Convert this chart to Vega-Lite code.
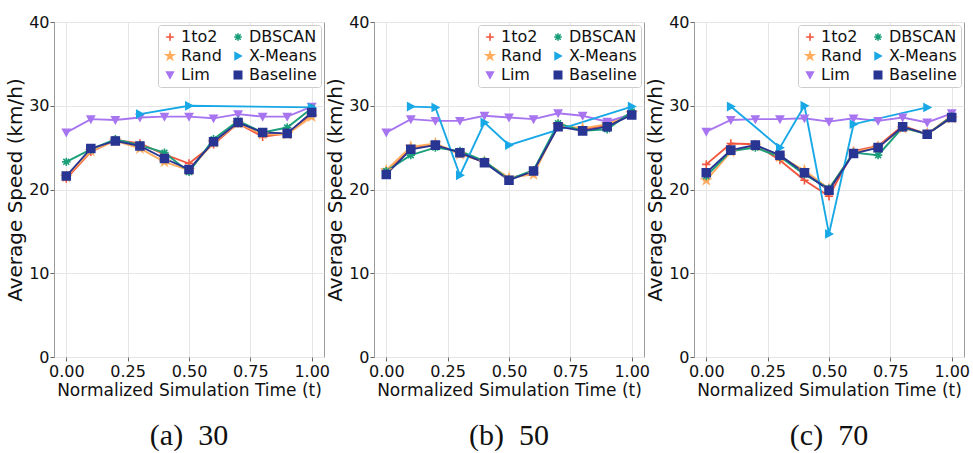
{
"$schema": "https://vega.github.io/schema/vega-lite/v6.json",
"background": "white",
"padding": {"left": 5, "top": 13, "right": 0, "bottom": 0},
"autosize": {"type": "pad"},
"bounds": "flush",
"spacing": 50,
"data": {"values": [
{"p":"a","m":"1to2","t":0,"v":21.3},{"p":"a","m":"1to2","t":0.1,"v":24.5},{"p":"a","m":"1to2","t":0.2,"v":25.9},{"p":"a","m":"1to2","t":0.3,"v":25.5},{"p":"a","m":"1to2","t":0.4,"v":24.2},{"p":"a","m":"1to2","t":0.5,"v":23.1},{"p":"a","m":"1to2","t":0.6,"v":25.4},{"p":"a","m":"1to2","t":0.7,"v":27.9},{"p":"a","m":"1to2","t":0.8,"v":26.3},{"p":"a","m":"1to2","t":0.9,"v":26.7},{"p":"a","m":"1to2","t":1.0,"v":29.0},
{"p":"a","m":"Rand","t":0,"v":21.5},{"p":"a","m":"Rand","t":0.1,"v":24.6},{"p":"a","m":"Rand","t":0.2,"v":25.8},{"p":"a","m":"Rand","t":0.3,"v":24.9},{"p":"a","m":"Rand","t":0.4,"v":23.3},{"p":"a","m":"Rand","t":0.5,"v":22.3},{"p":"a","m":"Rand","t":0.6,"v":25.6},{"p":"a","m":"Rand","t":0.7,"v":27.9},{"p":"a","m":"Rand","t":0.8,"v":26.6},{"p":"a","m":"Rand","t":0.9,"v":26.6},{"p":"a","m":"Rand","t":1.0,"v":28.7},
{"p":"a","m":"Lim","t":0,"v":26.8},{"p":"a","m":"Lim","t":0.1,"v":28.4},{"p":"a","m":"Lim","t":0.2,"v":28.3},{"p":"a","m":"Lim","t":0.3,"v":28.6},{"p":"a","m":"Lim","t":0.4,"v":28.7},{"p":"a","m":"Lim","t":0.5,"v":28.7},{"p":"a","m":"Lim","t":0.6,"v":28.5},{"p":"a","m":"Lim","t":0.7,"v":29.0},{"p":"a","m":"Lim","t":0.8,"v":28.7},{"p":"a","m":"Lim","t":0.9,"v":28.7},{"p":"a","m":"Lim","t":1.0,"v":29.9},
{"p":"a","m":"DBSCAN","t":0,"v":23.3},{"p":"a","m":"DBSCAN","t":0.1,"v":24.8},{"p":"a","m":"DBSCAN","t":0.2,"v":26.0},{"p":"a","m":"DBSCAN","t":0.3,"v":25.3},{"p":"a","m":"DBSCAN","t":0.4,"v":24.4},{"p":"a","m":"DBSCAN","t":0.5,"v":22.1},{"p":"a","m":"DBSCAN","t":0.6,"v":26.0},{"p":"a","m":"DBSCAN","t":0.7,"v":28.2},{"p":"a","m":"DBSCAN","t":0.8,"v":26.8},{"p":"a","m":"DBSCAN","t":0.9,"v":27.4},{"p":"a","m":"DBSCAN","t":1.0,"v":29.7},
{"p":"a","m":"X-Means","t":0.3,"v":29.0},{"p":"a","m":"X-Means","t":0.5,"v":30.0},{"p":"a","m":"X-Means","t":1.0,"v":29.8},
{"p":"a","m":"Baseline","t":0,"v":21.6},{"p":"a","m":"Baseline","t":0.1,"v":24.9},{"p":"a","m":"Baseline","t":0.2,"v":25.8},{"p":"a","m":"Baseline","t":0.3,"v":25.2},{"p":"a","m":"Baseline","t":0.4,"v":23.7},{"p":"a","m":"Baseline","t":0.5,"v":22.4},{"p":"a","m":"Baseline","t":0.6,"v":25.7},{"p":"a","m":"Baseline","t":0.7,"v":28.0},{"p":"a","m":"Baseline","t":0.8,"v":26.8},{"p":"a","m":"Baseline","t":0.9,"v":26.7},{"p":"a","m":"Baseline","t":1.0,"v":29.2},
{"p":"b","m":"1to2","t":0,"v":22.0},{"p":"b","m":"1to2","t":0.1,"v":25.0},{"p":"b","m":"1to2","t":0.2,"v":25.4},{"p":"b","m":"1to2","t":0.3,"v":24.3},{"p":"b","m":"1to2","t":0.4,"v":23.3},{"p":"b","m":"1to2","t":0.5,"v":21.3},{"p":"b","m":"1to2","t":0.6,"v":22.1},{"p":"b","m":"1to2","t":0.7,"v":27.6},{"p":"b","m":"1to2","t":0.8,"v":27.2},{"p":"b","m":"1to2","t":0.9,"v":27.7},{"p":"b","m":"1to2","t":1.0,"v":29.0},
{"p":"b","m":"Rand","t":0,"v":22.3},{"p":"b","m":"Rand","t":0.1,"v":25.1},{"p":"b","m":"Rand","t":0.2,"v":25.5},{"p":"b","m":"Rand","t":0.3,"v":24.2},{"p":"b","m":"Rand","t":0.4,"v":23.3},{"p":"b","m":"Rand","t":0.5,"v":21.4},{"p":"b","m":"Rand","t":0.6,"v":21.8},{"p":"b","m":"Rand","t":0.7,"v":27.7},{"p":"b","m":"Rand","t":0.8,"v":27.3},{"p":"b","m":"Rand","t":0.9,"v":27.8},{"p":"b","m":"Rand","t":1.0,"v":29.1},
{"p":"b","m":"Lim","t":0,"v":26.8},{"p":"b","m":"Lim","t":0.1,"v":28.4},{"p":"b","m":"Lim","t":0.2,"v":28.2},{"p":"b","m":"Lim","t":0.3,"v":28.2},{"p":"b","m":"Lim","t":0.4,"v":28.8},{"p":"b","m":"Lim","t":0.5,"v":28.6},{"p":"b","m":"Lim","t":0.6,"v":28.4},{"p":"b","m":"Lim","t":0.7,"v":29.1},{"p":"b","m":"Lim","t":0.8,"v":28.8},{"p":"b","m":"Lim","t":0.9,"v":28.1},{"p":"b","m":"Lim","t":1.0,"v":29.0},
{"p":"b","m":"DBSCAN","t":0,"v":22.2},{"p":"b","m":"DBSCAN","t":0.1,"v":24.1},{"p":"b","m":"DBSCAN","t":0.2,"v":25.0},{"p":"b","m":"DBSCAN","t":0.3,"v":24.6},{"p":"b","m":"DBSCAN","t":0.4,"v":23.4},{"p":"b","m":"DBSCAN","t":0.5,"v":21.2},{"p":"b","m":"DBSCAN","t":0.6,"v":22.3},{"p":"b","m":"DBSCAN","t":0.7,"v":27.9},{"p":"b","m":"DBSCAN","t":0.8,"v":27.0},{"p":"b","m":"DBSCAN","t":0.9,"v":27.2},{"p":"b","m":"DBSCAN","t":1.0,"v":29.3},
{"p":"b","m":"X-Means","t":0.1,"v":29.9},{"p":"b","m":"X-Means","t":0.2,"v":29.8},{"p":"b","m":"X-Means","t":0.3,"v":21.7},{"p":"b","m":"X-Means","t":0.4,"v":28.0},{"p":"b","m":"X-Means","t":0.5,"v":25.3},{"p":"b","m":"X-Means","t":1.0,"v":29.9},
{"p":"b","m":"Baseline","t":0,"v":21.8},{"p":"b","m":"Baseline","t":0.1,"v":24.8},{"p":"b","m":"Baseline","t":0.2,"v":25.3},{"p":"b","m":"Baseline","t":0.3,"v":24.4},{"p":"b","m":"Baseline","t":0.4,"v":23.2},{"p":"b","m":"Baseline","t":0.5,"v":21.1},{"p":"b","m":"Baseline","t":0.6,"v":22.2},{"p":"b","m":"Baseline","t":0.7,"v":27.5},{"p":"b","m":"Baseline","t":0.8,"v":27.0},{"p":"b","m":"Baseline","t":0.9,"v":27.5},{"p":"b","m":"Baseline","t":1.0,"v":28.9},
{"p":"c","m":"1to2","t":0,"v":23.0},{"p":"c","m":"1to2","t":0.1,"v":25.5},{"p":"c","m":"1to2","t":0.2,"v":25.4},{"p":"c","m":"1to2","t":0.3,"v":23.5},{"p":"c","m":"1to2","t":0.4,"v":21.1},{"p":"c","m":"1to2","t":0.5,"v":19.2},{"p":"c","m":"1to2","t":0.6,"v":24.6},{"p":"c","m":"1to2","t":0.7,"v":25.2},{"p":"c","m":"1to2","t":0.8,"v":27.6},{"p":"c","m":"1to2","t":0.9,"v":26.6},{"p":"c","m":"1to2","t":1.0,"v":28.8},
{"p":"c","m":"Rand","t":0,"v":21.1},{"p":"c","m":"Rand","t":0.1,"v":24.5},{"p":"c","m":"Rand","t":0.2,"v":25.2},{"p":"c","m":"Rand","t":0.3,"v":23.9},{"p":"c","m":"Rand","t":0.4,"v":22.3},{"p":"c","m":"Rand","t":0.5,"v":20.1},{"p":"c","m":"Rand","t":0.6,"v":24.4},{"p":"c","m":"Rand","t":0.7,"v":25.1},{"p":"c","m":"Rand","t":0.8,"v":27.3},{"p":"c","m":"Rand","t":0.9,"v":26.7},{"p":"c","m":"Rand","t":1.0,"v":28.5},
{"p":"c","m":"Lim","t":0,"v":26.9},{"p":"c","m":"Lim","t":0.1,"v":28.3},{"p":"c","m":"Lim","t":0.2,"v":28.4},{"p":"c","m":"Lim","t":0.3,"v":28.4},{"p":"c","m":"Lim","t":0.4,"v":28.5},{"p":"c","m":"Lim","t":0.5,"v":28.1},{"p":"c","m":"Lim","t":0.6,"v":28.5},{"p":"c","m":"Lim","t":0.7,"v":28.2},{"p":"c","m":"Lim","t":0.8,"v":28.6},{"p":"c","m":"Lim","t":0.9,"v":28.0},{"p":"c","m":"Lim","t":1.0,"v":29.1},
{"p":"c","m":"DBSCAN","t":0,"v":21.6},{"p":"c","m":"DBSCAN","t":0.1,"v":24.6},{"p":"c","m":"DBSCAN","t":0.2,"v":25.0},{"p":"c","m":"DBSCAN","t":0.3,"v":23.9},{"p":"c","m":"DBSCAN","t":0.4,"v":21.8},{"p":"c","m":"DBSCAN","t":0.5,"v":20.1},{"p":"c","m":"DBSCAN","t":0.6,"v":24.4},{"p":"c","m":"DBSCAN","t":0.7,"v":24.1},{"p":"c","m":"DBSCAN","t":0.8,"v":27.4},{"p":"c","m":"DBSCAN","t":0.9,"v":26.6},{"p":"c","m":"DBSCAN","t":1.0,"v":28.7},
{"p":"c","m":"X-Means","t":0.1,"v":29.9},{"p":"c","m":"X-Means","t":0.3,"v":25.0},{"p":"c","m":"X-Means","t":0.4,"v":30.0},{"p":"c","m":"X-Means","t":0.5,"v":14.7},{"p":"c","m":"X-Means","t":0.6,"v":27.8},{"p":"c","m":"X-Means","t":0.9,"v":29.8},
{"p":"c","m":"Baseline","t":0,"v":22.0},{"p":"c","m":"Baseline","t":0.1,"v":24.7},{"p":"c","m":"Baseline","t":0.2,"v":25.3},{"p":"c","m":"Baseline","t":0.3,"v":24.1},{"p":"c","m":"Baseline","t":0.4,"v":22.0},{"p":"c","m":"Baseline","t":0.5,"v":19.9},{"p":"c","m":"Baseline","t":0.6,"v":24.3},{"p":"c","m":"Baseline","t":0.7,"v":25.0},{"p":"c","m":"Baseline","t":0.8,"v":27.5},{"p":"c","m":"Baseline","t":0.9,"v":26.6},{"p":"c","m":"Baseline","t":1.0,"v":28.6}
]},
"hconcat": [
{"width": 270, "height": 335,
 "title": {"text": "(a)\u00a0\u00a030"},
 "transform": [{"filter": "datum.p === 'a'"}],
 "layer": [
  {"mark": {"type": "line", "strokeWidth": 1.9},
   "encoding": {
    "x": {"field": "t", "type": "quantitative", "scale": {"domain": [-0.05, 1.05], "nice": false, "zero": false}, "axis": {"values": [0, 0.25, 0.5, 0.75, 1], "format": ".2f", "title": "Normalized Simulation Time (t)"}},
    "y": {"field": "v", "type": "quantitative", "scale": {"domain": [0, 40], "nice": false}, "axis": {"values": [0, 10, 20, 30, 40], "title": "Average Speed (km/h)"}},
    "color": {"field": "m", "type": "nominal", "scale": {"domain": ["1to2", "Rand", "Lim", "DBSCAN", "X-Means", "Baseline"], "range": ["#f2553d", "#ffac5e", "#a875f0", "#1b9e7a", "#18a8e6", "#283593"]}, "legend": {"title": null}}
   }},
  {"mark": {"type": "point", "filled": true, "size": 70, "strokeWidth": 1.6, "opacity": 1},
   "encoding": {
    "x": {"field": "t", "type": "quantitative"},
    "y": {"field": "v", "type": "quantitative"},
    "color": {"field": "m", "type": "nominal", "legend": {"title": null}},
    "stroke": {"field": "m", "type": "nominal", "scale": {"domain": ["1to2", "Rand", "Lim", "DBSCAN", "X-Means", "Baseline"], "range": ["#f2553d", "#ffac5e", "#a875f0", "#1b9e7a", "#18a8e6", "#283593"]}, "legend": {"title": null}},
    "shape": {"field": "m", "type": "nominal", "scale": {"domain": ["1to2", "Rand", "Lim", "DBSCAN", "X-Means", "Baseline"], "range": ["M-1,0H1M0,-1V1", "M0,-1L0.2245,-0.309L0.951,-0.309L0.363,0.118L0.588,0.809L0,0.382L-0.588,0.809L-0.363,0.118L-0.951,-0.309L-0.2245,-0.309Z", "M-0.85,-0.75L0.85,-0.75L0,0.8Z", "M-1,0H1M0,-1V1M-0.7,-0.7L0.7,0.7M-0.7,0.7L0.7,-0.7", "M-0.75,-0.85L0.8,0L-0.75,0.85Z", "M-0.95,-0.95H0.95V0.95H-0.95Z"]}, "legend": {"title": null}}
   }}
 ]},
{"width": 270, "height": 335,
 "title": {"text": "(b)\u00a0\u00a050"},
 "transform": [{"filter": "datum.p === 'b'"}],
 "layer": [
  {"mark": {"type": "line", "strokeWidth": 1.9},
   "encoding": {
    "x": {"field": "t", "type": "quantitative", "scale": {"domain": [-0.05, 1.05], "nice": false, "zero": false}, "axis": {"values": [0, 0.25, 0.5, 0.75, 1], "format": ".2f", "title": "Normalized Simulation Time (t)"}},
    "y": {"field": "v", "type": "quantitative", "scale": {"domain": [0, 40], "nice": false}, "axis": {"values": [0, 10, 20, 30, 40], "title": "Average Speed (km/h)"}},
    "color": {"field": "m", "type": "nominal", "scale": {"domain": ["1to2", "Rand", "Lim", "DBSCAN", "X-Means", "Baseline"], "range": ["#f2553d", "#ffac5e", "#a875f0", "#1b9e7a", "#18a8e6", "#283593"]}, "legend": {"title": null}}
   }},
  {"mark": {"type": "point", "filled": true, "size": 70, "strokeWidth": 1.6, "opacity": 1},
   "encoding": {
    "x": {"field": "t", "type": "quantitative"},
    "y": {"field": "v", "type": "quantitative"},
    "color": {"field": "m", "type": "nominal", "legend": {"title": null}},
    "stroke": {"field": "m", "type": "nominal", "scale": {"domain": ["1to2", "Rand", "Lim", "DBSCAN", "X-Means", "Baseline"], "range": ["#f2553d", "#ffac5e", "#a875f0", "#1b9e7a", "#18a8e6", "#283593"]}, "legend": {"title": null}},
    "shape": {"field": "m", "type": "nominal", "scale": {"domain": ["1to2", "Rand", "Lim", "DBSCAN", "X-Means", "Baseline"], "range": ["M-1,0H1M0,-1V1", "M0,-1L0.2245,-0.309L0.951,-0.309L0.363,0.118L0.588,0.809L0,0.382L-0.588,0.809L-0.363,0.118L-0.951,-0.309L-0.2245,-0.309Z", "M-0.85,-0.75L0.85,-0.75L0,0.8Z", "M-1,0H1M0,-1V1M-0.7,-0.7L0.7,0.7M-0.7,0.7L0.7,-0.7", "M-0.75,-0.85L0.8,0L-0.75,0.85Z", "M-0.95,-0.95H0.95V0.95H-0.95Z"]}, "legend": {"title": null}}
   }}
 ]},
{"width": 270, "height": 335,
 "title": {"text": "(c)\u00a0\u00a070"},
 "transform": [{"filter": "datum.p === 'c'"}],
 "layer": [
  {"mark": {"type": "line", "strokeWidth": 1.9},
   "encoding": {
    "x": {"field": "t", "type": "quantitative", "scale": {"domain": [-0.05, 1.05], "nice": false, "zero": false}, "axis": {"values": [0, 0.25, 0.5, 0.75, 1], "format": ".2f", "title": "Normalized Simulation Time (t)"}},
    "y": {"field": "v", "type": "quantitative", "scale": {"domain": [0, 40], "nice": false}, "axis": {"values": [0, 10, 20, 30, 40], "title": "Average Speed (km/h)"}},
    "color": {"field": "m", "type": "nominal", "scale": {"domain": ["1to2", "Rand", "Lim", "DBSCAN", "X-Means", "Baseline"], "range": ["#f2553d", "#ffac5e", "#a875f0", "#1b9e7a", "#18a8e6", "#283593"]}, "legend": {"title": null}}
   }},
  {"mark": {"type": "point", "filled": true, "size": 70, "strokeWidth": 1.6, "opacity": 1},
   "encoding": {
    "x": {"field": "t", "type": "quantitative"},
    "y": {"field": "v", "type": "quantitative"},
    "color": {"field": "m", "type": "nominal", "legend": {"title": null}},
    "stroke": {"field": "m", "type": "nominal", "scale": {"domain": ["1to2", "Rand", "Lim", "DBSCAN", "X-Means", "Baseline"], "range": ["#f2553d", "#ffac5e", "#a875f0", "#1b9e7a", "#18a8e6", "#283593"]}, "legend": {"title": null}},
    "shape": {"field": "m", "type": "nominal", "scale": {"domain": ["1to2", "Rand", "Lim", "DBSCAN", "X-Means", "Baseline"], "range": ["M-1,0H1M0,-1V1", "M0,-1L0.2245,-0.309L0.951,-0.309L0.363,0.118L0.588,0.809L0,0.382L-0.588,0.809L-0.363,0.118L-0.951,-0.309L-0.2245,-0.309Z", "M-0.85,-0.75L0.85,-0.75L0,0.8Z", "M-1,0H1M0,-1V1M-0.7,-0.7L0.7,0.7M-0.7,0.7L0.7,-0.7", "M-0.75,-0.85L0.8,0L-0.75,0.85Z", "M-0.95,-0.95H0.95V0.95H-0.95Z"]}, "legend": {"title": null}}
   }}
 ]}
],
"resolve": {"legend": {"color": "independent", "stroke": "independent", "shape": "independent"}},
"config": {
 "font": "DejaVu Sans",
 "view": {"stroke": "#9a9a9a", "strokeWidth": 1},
 "axis": {"domain": false, "gridColor": "#e6e6e6", "gridWidth": 1, "tickColor": "#666", "tickSize": 4, "labelFontSize": 16, "labelColor": "#111", "labelPadding": 2, "titleFontSize": 17, "titleFontWeight": "normal", "titleColor": "#111", "titlePadding": 3},
 "axisY": {"titleFontSize": 20, "labelPadding": 1},
 "legend": {"orient": "top-right", "offset": 3, "columns": 2, "fillColor": "white", "strokeColor": "#cccccc", "cornerRadius": 3, "padding": 4, "labelFontSize": 16, "labelColor": "#111", "symbolSize": 60, "symbolStrokeWidth": 1.6, "rowPadding": 3, "columnPadding": 8, "labelOffset": 3},
 "title": {"orient": "bottom", "font": "Liberation Serif", "fontSize": 30, "fontWeight": "normal", "color": "#111", "offset": 23, "anchor": "middle"}
}
}
